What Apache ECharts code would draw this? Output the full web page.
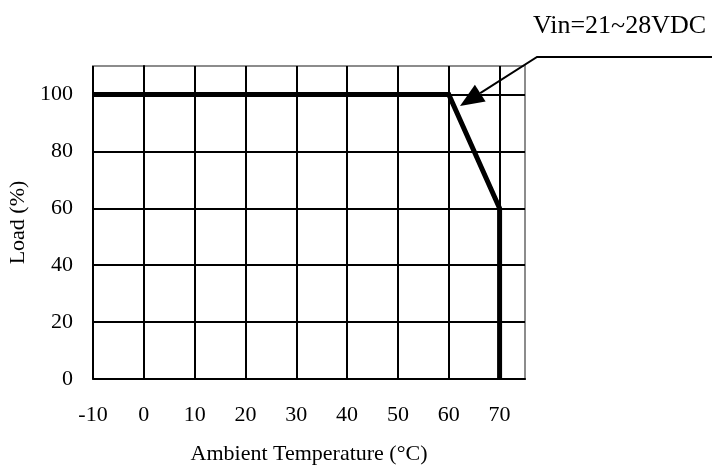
<!DOCTYPE html>
<html>
<head>
<meta charset="utf-8">
<script src="https://cdn.jsdelivr.net/npm/echarts@6/dist/echarts.min.js"></script>
<style>
html,body{margin:0;padding:0;background:#fff;}
#c{width:712px;height:466px;}
</style>
</head>
<body>
<div id="c"></div>
<script>
// Data
var temperature = [-10, 60, 70, 70];
var loadPct = [100, 100, 60, 0];
var xTicks = [-10, 0, 10, 20, 30, 40, 50, 60, 70];
var yTicks = [0, 20, 40, 60, 80, 100];
var annotationText = 'Vin=21~28VDC';
var xName = 'Ambient Temperature (°C)';
var yName = 'Load (%)';

var FONT = '"Liberation Serif", "Times New Roman", serif';
var chart = echarts.init(document.getElementById('c'), null, {renderer: 'canvas'});

var points = temperature.map(function (t, i) { return [t, loadPct[i]]; });

chart.setOption({
  animation: false,
  backgroundColor: '#fff',
  grid: {
    left: 93, right: 187, top: 66, bottom: 87,
    outerBoundsMode: 'none', containLabel: false,
    show: true, borderColor: '#8c8c8c', borderWidth: 2, backgroundColor: 'transparent'
  },
  xAxis: {
    type: 'value', min: -10, max: 75, interval: 10,
    name: xName, nameLocation: 'middle', nameGap: 64,
    nameTextStyle: {fontFamily: FONT, fontSize: 22, color: '#000'},
    axisLine: {show: true, onZero: false, lineStyle: {color: '#000', width: 2}},
    axisTick: {show: false},
    axisLabel: {fontFamily: FONT, fontSize: 22, color: '#000', margin: 25, showMaxLabel: false},
    splitLine: {show: true, showMaxLine: false, lineStyle: {color: '#000', width: 2}}
  },
  yAxis: {
    type: 'value', min: 0, max: 110, interval: 20,
    name: yName, nameLocation: 'middle', nameGap: 62, nameRotate: 90,
    nameTextStyle: {fontFamily: FONT, fontSize: 22, color: '#000'},
    axisLine: {show: true, lineStyle: {color: '#000', width: 2}},
    axisTick: {show: false},
    axisLabel: {fontFamily: FONT, fontSize: 22, color: '#000', margin: 20, showMaxLabel: false},
    splitLine: {show: true, showMaxLine: false, lineStyle: {color: '#000', width: 2}}
  },
  series: [{
    type: 'line',
    data: points,
    symbol: 'none',
    lineStyle: {color: '#000', width: 5, join: 'miter'},
    z: 5
  }]
});

// Annotation: leader line with arrow pointing at the derating knee
var tip = [460, 106], elbow = [537, 57], endX = 712;
var ang = Math.atan2(tip[1] - elbow[1], tip[0] - elbow[0]);
var L = 24, W = 10;
var bx = tip[0] - L * Math.cos(ang), by = tip[1] - L * Math.sin(ang);
var px = -Math.sin(ang) * W, py = Math.cos(ang) * W;
chart.setOption({
  graphic: [
    {type: 'polyline', z: 100, shape: {points: [[endX, 57], [elbow[0], 57], [bx, by]]},
     style: {stroke: '#000', lineWidth: 2, fill: null}},
    {type: 'polygon', z: 100, shape: {points: [tip, [bx + px, by + py], [bx - px, by - py]]},
     style: {fill: '#000'}},
    {type: 'text', z: 100, left: 533, top: 13,
     style: {text: annotationText, font: '26px ' + FONT, fill: '#000'}}
  ]
});
</script>
</body>
</html>
